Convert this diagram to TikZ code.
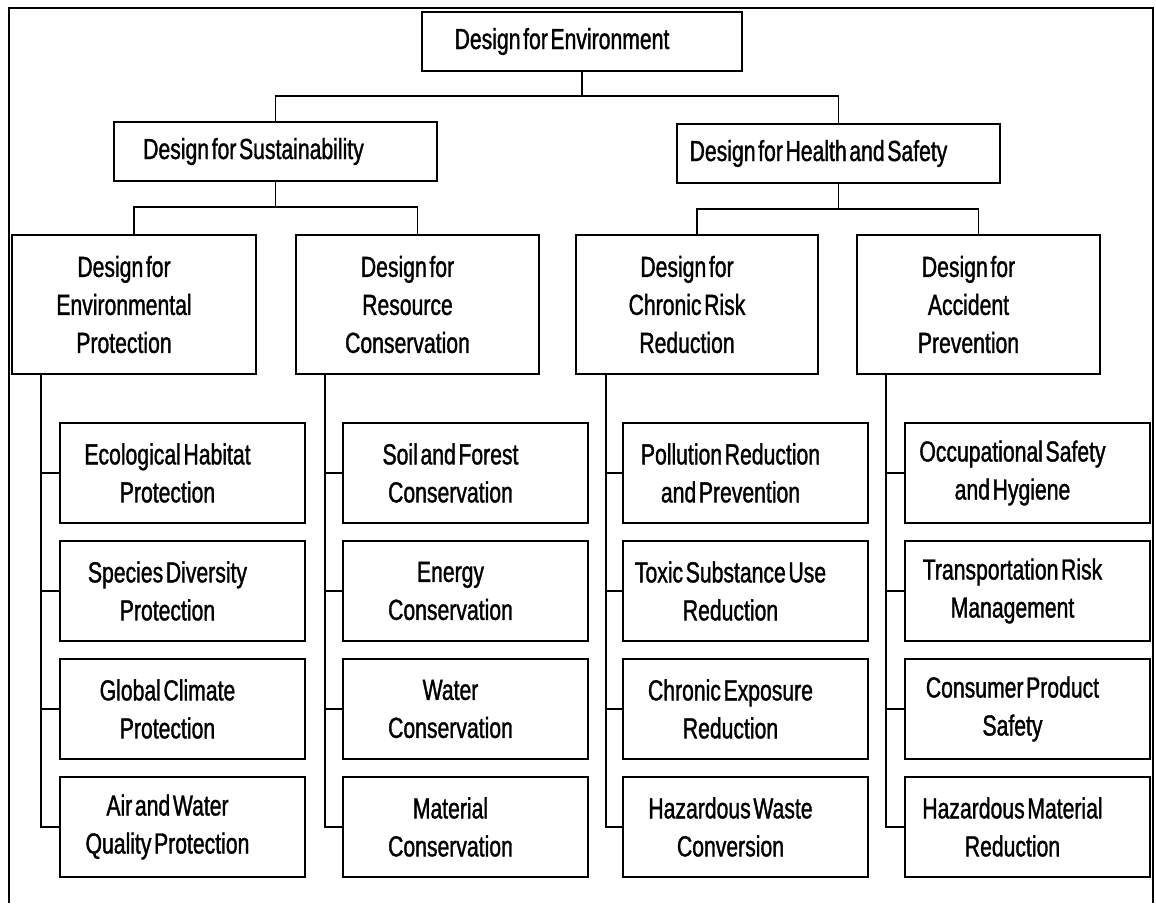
\documentclass[tikz,border=0pt]{standalone}
\usepackage{fontspec}
\setmainfont{Liberation Sans}[FakeStretch=0.73, WordSpace=0.45, FakeBold=1.2]
\begin{document}
\begin{tikzpicture}[x=1pt, y=-1pt,
  box/.style={draw, line width=1.8pt, inner sep=0pt},
  txt/.style={inner sep=0pt, align=center, font=\fontsize{29}{38}\selectfont},
  conn/.style={line width=1.8pt},
  frame/.style={line width=1.5pt}]
% box: name, x1, y1, x2, y2, text shift, text
\newcommand\cbox[7]{%
  \node[box, minimum width={#4-#2}, minimum height={#5-#3}] (#1) at ({(#2+#4)/2},{(#3+#5)/2}) {};
  \node[txt] (#1-t) at ([xshift=#6]#1.center) {#7};}
\useasboundingbox[fill=white] (0,0) rectangle (1156,903);
% outer frame, open at the bottom
\draw[frame] (9,903) -- (9,8) -- (1153,8) -- (1153,903);

% top levels
\cbox{root}{422}{12}{742}{71}{-20}{Design for Environment}
\cbox{sust}{114}{122}{437}{181}{-22}{Design for Sustainability}
\cbox{hs}{677}{124}{1000}{183}{-20}{Design for Health and Safety}

% second level
\cbox{ep}{12}{235}{256}{374}{-10}{Design for\\Environmental\\Protection}
\cbox{rc}{296}{235}{539}{374}{-10}{Design for\\Resource\\Conservation}
\cbox{cr}{576}{235}{818}{374}{-10}{Design for\\Chronic Risk\\Reduction}
\cbox{ap}{857}{235}{1100}{374}{-10}{Design for\\Accident\\Prevention}

% leaves: Environmental Protection
\cbox{ep1}{60}{423}{305}{523}{-15}{Ecological Habitat\\Protection}
\cbox{ep2}{60}{541}{305}{641}{-15}{Species Diversity\\Protection}
\cbox{ep3}{60}{659}{305}{759}{-15}{Global Climate\\Protection}
\cbox{ep4}{60}{777}{305}{877}{-15}{Air and Water\\Quality Protection}
% leaves: Resource Conservation
\cbox{rc1}{343}{423}{588}{523}{-15}{Soil and Forest\\Conservation}
\cbox{rc2}{343}{541}{588}{641}{-15}{Energy\\Conservation}
\cbox{rc3}{343}{659}{588}{759}{-15}{Water\\Conservation}
\cbox{rc4}{343}{777}{588}{877}{-15}{Material\\Conservation}
% leaves: Chronic Risk Reduction
\cbox{cr1}{623}{423}{868}{523}{-15}{Pollution Reduction\\and Prevention}
\cbox{cr2}{623}{541}{868}{641}{-15}{Toxic Substance Use\\Reduction}
\cbox{cr3}{623}{659}{868}{759}{-15}{Chronic Exposure\\Reduction}
\cbox{cr4}{623}{777}{868}{877}{-15}{Hazardous Waste\\Conversion}
% leaves: Accident Prevention
\cbox{ap1}{905}{423}{1150}{523}{-15}{Occupational Safety\\and Hygiene}
\cbox{ap2}{905}{541}{1150}{641}{-15}{Transportation Risk\\Management}
\cbox{ap3}{905}{659}{1150}{759}{-15}{Consumer Product\\Safety}
\cbox{ap4}{905}{777}{1150}{877}{-15}{Hazardous Material\\Reduction}

% branch heights
\coordinate (h0) at (0,96);
\coordinate (h1) at (0,207);
\coordinate (h2) at (0,209);
% stem positions of the second-level boxes
\coordinate (ep-st) at (41,0);
\coordinate (rc-st) at (325,0);
\coordinate (cr-st) at (606,0);
\coordinate (ap-st) at (886,0);

% root to first level
\draw[conn] (root.south) -- (root.south |- h0);
\draw[conn] (sust.north) |- (hs.north |- h0) -- (hs.north);
% first to second level
\draw[conn] (sust.south) -- (sust.south |- h1);
\draw[conn] (ep.north) |- (rc.north |- h1) -- (rc.north);
\draw[conn] (hs.south) -- (hs.south |- h2);
\draw[conn] (cr.north) |- (ap.north |- h2) -- (ap.north);
% second level to leaves
\foreach \g in {ep,rc,cr,ap}{
  \draw[conn] (\g.south -| \g-st) |- (\g4.west);
  \foreach \i in {1,2,3}{
    \draw[conn] (\g\i.west) -- (\g\i.west -| \g-st);
  }
}
\end{tikzpicture}
\end{document}
